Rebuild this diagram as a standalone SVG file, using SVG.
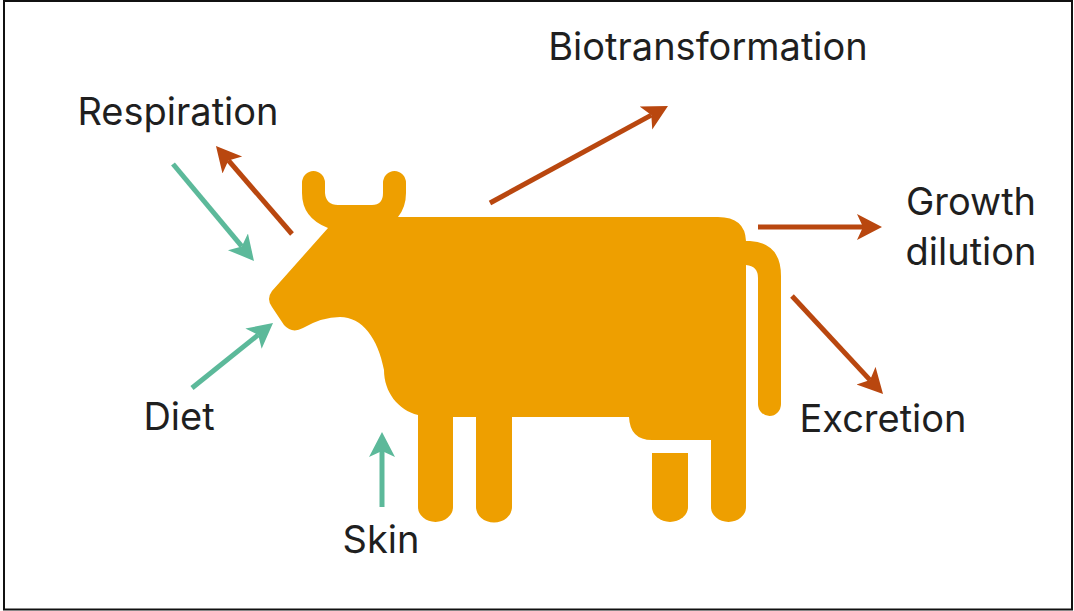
<svg xmlns="http://www.w3.org/2000/svg" width="1074" height="611" viewBox="0 0 1074 611">
<defs>
<marker id="ag" markerUnits="userSpaceOnUse" markerWidth="30" markerHeight="30" refX="6" refY="13" orient="auto"><path d="M0 0L25 13L0 26L6 13Z" fill="#5cb99a"/></marker>
<marker id="ar" markerUnits="userSpaceOnUse" markerWidth="30" markerHeight="30" refX="6" refY="13" orient="auto"><path d="M0 0L25 13L0 26L6 13Z" fill="#b9470f"/></marker>
</defs>
<style>
.t{font-family:"Inter","Liberation Sans",sans-serif;font-size:38px;fill:#1f1f1f;text-anchor:middle}
.g{stroke:#5cb99a;stroke-width:5;fill:none;marker-end:url(#ag)}
.r{stroke:#b9470f;stroke-width:5;fill:none;marker-end:url(#ar)}
</style>
<rect width="1074" height="611" fill="#fff"/>
<rect x="4" y="1" width="1068" height="608.500" fill="none" stroke="#111" stroke-width="2"/>
<g id="cow">
<path fill="#ee9f00" d="M302 183A11.500 12 0 0 1 325 183V193Q326 205 338 205H372Q383 205 383 193V183A11.500 12 0 0 1 406 183V193Q406 207 398 217H718Q745 217 746 241H750Q781 243 781 276V404A11.500 12 0 0 1 758 404V278Q758 266 746 265V507A17.500 15 0 0 1 711 507V440H652Q630 440 629 417H512V507A17.500 15 0 0 1 476 507V417H453V507A17.500 15 0 0 1 418 507V415C398 410 384 392 384 370C378 338 362 317 340 317Q322 317 303 328Q292 334 284 325L272 307Q266 299 272 291L328 228Q302 218 302 193Z"/>
<path fill="#ee9f00" d="M652 453H688V507A18 15 0 0 1 652 507Z"/>
</g>
<g id="connectors">
<path class="g" d="M173 164L241.800 246.400"/>
<path class="r" d="M292 234L228.400 160.400"/>
<path class="g" d="M192 388L258.200 334.900"/>
<path class="g" d="M382 507V451"/>
<path class="r" d="M490 203L651.300 115.100"/>
<path class="r" d="M758 227H863"/>
<path class="r" d="M792 296L870.100 380.100"/>
</g>
<g id="labels">
<text class="t" x="178" y="125">Respiration</text>
<text class="t" x="708" y="60">Biotransformation</text>
<text class="t" x="971" y="215">Growth</text>
<text class="t" x="971" y="265">dilution</text>
<text class="t" x="883" y="432">Excretion</text>
<text class="t" x="179" y="430">Diet</text>
<text class="t" x="381" y="553">Skin</text>
</g>
</svg>
